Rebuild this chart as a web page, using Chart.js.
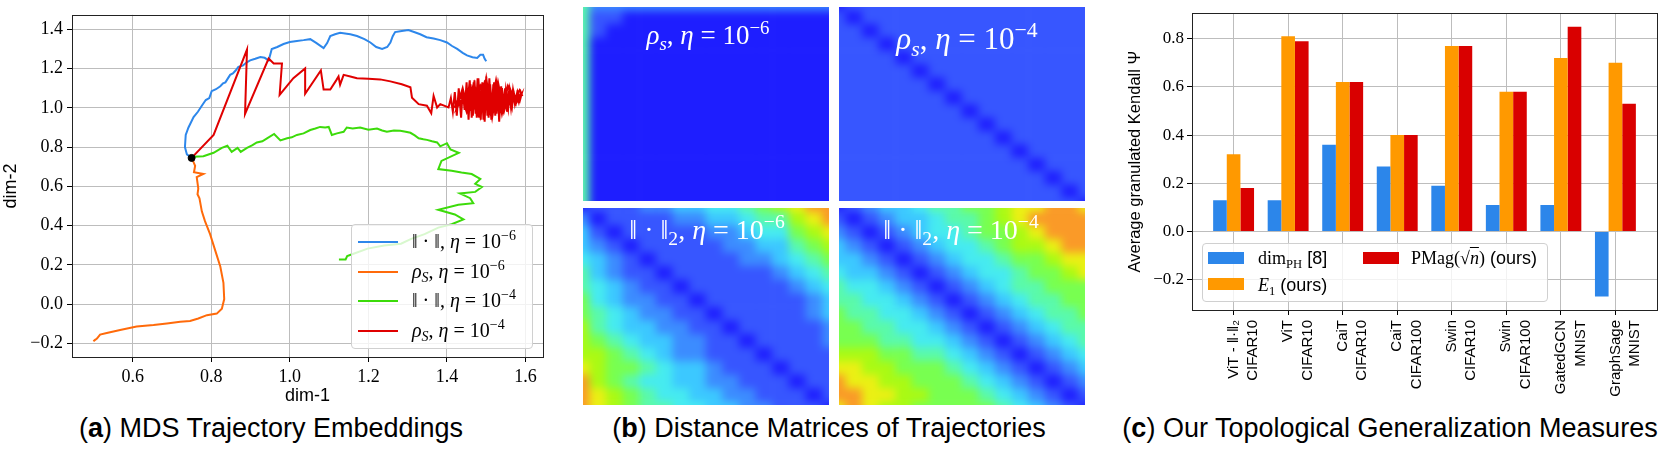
<!DOCTYPE html>
<html>
<head>
<meta charset="utf-8">
<title>Trajectories, distance matrices and generalization measures</title>
<script src="https://cdn.jsdelivr.net/npm/chart.js@4.4.1/dist/chart.umd.min.js"></script>
<style>
  body { margin: 0; background: #fff; color: #000; font-family: "Liberation Sans", Arial, sans-serif; }
  #page { position: relative; width: 1660px; height: 450px; overflow: hidden; }
  canvas, .legend, .caption, .label, .heat { position: absolute; }
  .heat { overflow: hidden; }
  .heat canvas { left: -10px; top: -10px; filter: blur(4px); }
  .math { font-family: "Liberation Serif", "DejaVu Serif", serif; }
  sub, sup { font-size: 0.7em; position: relative; vertical-align: baseline; line-height: 0; }
  sup { top: -0.55em; }
  sub { top: 0.3em; }
  .caption { top: 411px; font-size: 27px; line-height: 34px; white-space: nowrap; transform: translateX(-50%); }
  .label { color: #fff; white-space: nowrap; transform: translateX(-50%); line-height: 1; }
  .legend { background: rgba(255, 255, 255, 0.8); border: 1px solid #d0d0d0; border-radius: 4px; box-sizing: border-box; }
  .entry { position: absolute; white-space: nowrap; line-height: 1; }
  .swatch { position: absolute; }
  .ov { text-decoration: overline; }
</style>
</head>
<body>
<div id="page">
  <canvas id="mds" width="548" height="410" style="left:0;top:0"></canvas>

  <!-- each matrix canvas is 10px larger on every side and clipped by its box -->
  <div class="heat" style="left:583px;top:7px;width:246px;height:194px"><canvas id="heatTL" width="266" height="214"></canvas></div>
  <div class="heat" style="left:839px;top:7px;width:246px;height:194px"><canvas id="heatTR" width="266" height="214"></canvas></div>
  <div class="heat" style="left:583px;top:208px;width:246px;height:197px"><canvas id="heatBL" width="266" height="217"></canvas></div>
  <div class="heat" style="left:839px;top:208px;width:246px;height:197px"><canvas id="heatBR" width="266" height="217"></canvas></div>

  <canvas id="measures" width="560" height="400" style="left:1100px;top:0"></canvas>

  <!-- heatmap labels -->
  <div class="label math" style="left:708px;top:22px;font-size:27px"><i>ρ<sub>s</sub></i>, <i>η</i> = 10<sup>−6</sup></div>
  <div class="label math" style="left:967px;top:23px;font-size:31px"><i>ρ<sub>s</sub></i>, <i>η</i> = 10<sup>−4</sup></div>
  <div class="label math" style="left:707px;top:216px;font-size:28px">‖ · ‖<sub>2</sub>, <i>η</i> = 10<sup>−6</sup></div>
  <div class="label math" style="left:961px;top:216px;font-size:28px">‖ · ‖<sub>2</sub>, <i>η</i> = 10<sup>−4</sup></div>

  <!-- legend of panel (a) -->
  <div class="legend" style="left:351px;top:224px;width:182px;height:125px">
    <div class="swatch" style="left:6px;top:16px;width:40px;height:2px;background:#2d87eb"></div>
    <div class="entry math" style="left:60px;top:6px;font-size:20px">‖ · ‖, <i>η</i> = 10<sup>−6</sup></div>
    <div class="swatch" style="left:6px;top:46px;width:40px;height:2px;background:#ff6a0a"></div>
    <div class="entry math" style="left:60px;top:36px;font-size:20px"><i>ρ<sub>S</sub></i>, <i>η</i> = 10<sup>−6</sup></div>
    <div class="swatch" style="left:6px;top:75px;width:40px;height:2px;background:#3cdb0a"></div>
    <div class="entry math" style="left:60px;top:65px;font-size:20px">‖ · ‖, <i>η</i> = 10<sup>−4</sup></div>
    <div class="swatch" style="left:6px;top:105px;width:40px;height:2px;background:#e00000"></div>
    <div class="entry math" style="left:60px;top:95px;font-size:20px"><i>ρ<sub>S</sub></i>, <i>η</i> = 10<sup>−4</sup></div>
  </div>

  <!-- legend of panel (c) -->
  <div class="legend" style="left:1202px;top:243px;width:346px;height:59px">
    <div class="swatch" style="left:5px;top:8px;width:36px;height:12px;background:#2c86ea"></div>
    <div class="entry" style="left:55px;top:5px;font-size:18px"><span class="math">dim<sub>PH</sub></span> [8]</div>
    <div class="swatch" style="left:5px;top:34px;width:36px;height:12px;background:#ff9900"></div>
    <div class="entry" style="left:55px;top:32px;font-size:18px"><span class="math"><i>E</i><sub>1</sub></span> (ours)</div>
    <div class="swatch" style="left:160px;top:8px;width:36px;height:12px;background:#d90000"></div>
    <div class="entry" style="left:208px;top:5px;font-size:18px"><span class="math">PMag(√<i class="ov">n</i>)</span> (ours)</div>
  </div>

  <div class="caption" style="left:271px">(<b>a</b>) MDS Trajectory Embeddings</div>
  <div class="caption" style="left:829px">(<b>b</b>) Distance Matrices of Trajectories</div>
  <div class="caption" style="left:1390px">(<b>c</b>) Our Topological Generalization Measures</div>
</div>

<script>
// Panel (a): MDS embeddings of the four trajectories, [dim-1, dim-2]
const normSmall = [
  [0.750, 0.745], [0.738, 0.763], [0.733, 0.800], [0.735, 0.862], [0.742, 0.900], [0.755, 0.953],
  [0.766, 0.980], [0.776, 1.011], [0.786, 1.040], [0.795, 1.050], [0.801, 1.085], [0.812, 1.095],
  [0.823, 1.110], [0.830, 1.125], [0.836, 1.130], [0.848, 1.168], [0.855, 1.175], [0.862, 1.190],
  [0.869, 1.209], [0.880, 1.215], [0.889, 1.230], [0.899, 1.242], [0.912, 1.250], [0.925, 1.259],
  [0.936, 1.255], [0.946, 1.242], [0.950, 1.270], [0.954, 1.300], [0.968, 1.310], [0.984, 1.325],
  [1.000, 1.335], [1.018, 1.341], [1.035, 1.345], [1.052, 1.350], [1.068, 1.330], [1.086, 1.304],
  [1.095, 1.330], [1.103, 1.366], [1.115, 1.375], [1.128, 1.382], [1.145, 1.378], [1.154, 1.375],
  [1.171, 1.366], [1.190, 1.350], [1.205, 1.333], [1.220, 1.310], [1.235, 1.300], [1.248, 1.310],
  [1.256, 1.333], [1.262, 1.365], [1.268, 1.386], [1.285, 1.392], [1.302, 1.396], [1.318, 1.385],
  [1.332, 1.375], [1.348, 1.360], [1.366, 1.353], [1.383, 1.345], [1.400, 1.333], [1.413, 1.315],
  [1.426, 1.300], [1.440, 1.280], [1.451, 1.267], [1.465, 1.258], [1.477, 1.254], [1.485, 1.270],
  [1.492, 1.270], [1.496, 1.250], [1.500, 1.237]
];
const rhoSmall = [
  [0.750, 0.745], [0.751, 0.741], [0.759, 0.705], [0.756, 0.672], [0.780, 0.663], [0.763, 0.647],
  [0.767, 0.589], [0.765, 0.560], [0.770, 0.539], [0.776, 0.473], [0.784, 0.423], [0.797, 0.357],
  [0.810, 0.274], [0.823, 0.192], [0.831, 0.109], [0.833, 0.026], [0.827, -0.023], [0.814, -0.048],
  [0.789, -0.056], [0.767, -0.073], [0.746, -0.086], [0.721, -0.089], [0.687, -0.098], [0.653, -0.106],
  [0.610, -0.114], [0.568, -0.131], [0.534, -0.147], [0.517, -0.155], [0.509, -0.175], [0.500, -0.189],
  [0.505, -0.180]
];
const normLarge = [
  [0.750, 0.745], [0.755, 0.751], [0.780, 0.754], [0.806, 0.771], [0.827, 0.796], [0.841, 0.807],
  [0.852, 0.776], [0.867, 0.796], [0.875, 0.776], [0.891, 0.796], [0.905, 0.810], [0.916, 0.824],
  [0.930, 0.830], [0.942, 0.845], [0.960, 0.867], [0.976, 0.834], [0.993, 0.845], [1.005, 0.850],
  [1.018, 0.862], [1.035, 0.870], [1.052, 0.887], [1.065, 0.895], [1.077, 0.903], [1.090, 0.900],
  [1.099, 0.903], [1.107, 0.862], [1.120, 0.870], [1.137, 0.878], [1.145, 0.900], [1.160, 0.895],
  [1.179, 0.900], [1.200, 0.889], [1.222, 0.895], [1.235, 0.885], [1.247, 0.878], [1.265, 0.885],
  [1.281, 0.883], [1.295, 0.878], [1.307, 0.873], [1.318, 0.860], [1.328, 0.845], [1.340, 0.840],
  [1.349, 0.837], [1.362, 0.830], [1.375, 0.824], [1.383, 0.804], [1.400, 0.820], [1.409, 0.788],
  [1.430, 0.771], [1.386, 0.730], [1.378, 0.688], [1.412, 0.680], [1.437, 0.671], [1.463, 0.663],
  [1.485, 0.638], [1.472, 0.613], [1.489, 0.597], [1.472, 0.572], [1.433, 0.564], [1.459, 0.540],
  [1.467, 0.514], [1.429, 0.506], [1.378, 0.481], [1.420, 0.457], [1.442, 0.432], [1.412, 0.407],
  [1.378, 0.390], [1.343, 0.357], [1.309, 0.333], [1.283, 0.308], [1.240, 0.299], [1.198, 0.283],
  [1.164, 0.258], [1.146, 0.245], [1.142, 0.228], [1.125, 0.228]
];
const rhoLarge = [
  [0.750, 0.745], [0.806, 0.862], [0.891, 1.297], [0.886, 0.969], [0.946, 1.251], [0.959, 1.226],
  [0.980, 1.226], [0.974, 1.066], [1.009, 1.151], [1.039, 1.201], [1.039, 1.072], [1.079, 1.191],
  [1.086, 1.093], [1.103, 1.093], [1.118, 1.140], [1.124, 1.160], [1.128, 1.118], [1.137, 1.168],
  [1.154, 1.160], [1.171, 1.151], [1.200, 1.148], [1.230, 1.145], [1.256, 1.135], [1.285, 1.120],
  [1.307, 1.105], [1.311, 1.052], [1.328, 1.019], [1.349, 1.011], [1.360, 0.973], [1.366, 1.061],
  [1.375, 1.002], [1.383, 1.019], [1.404, 1.002],
  // the noisy end of the run
  [1.410, 1.05], [1.415, 0.98], [1.420, 1.08], [1.425, 0.96], [1.430, 1.10], [1.436, 0.95],
  [1.440, 1.09], [1.445, 0.99], [1.450, 1.13], [1.455, 0.94], [1.460, 1.12], [1.466, 0.96],
  [1.470, 1.14], [1.476, 0.95], [1.480, 1.15], [1.486, 0.94], [1.490, 1.13], [1.496, 0.93],
  [1.500, 1.16], [1.506, 0.95], [1.510, 1.12], [1.516, 0.96], [1.520, 1.13], [1.526, 0.97],
  [1.530, 1.11], [1.536, 0.98], [1.540, 1.10], [1.546, 0.99], [1.550, 1.09], [1.556, 1.00],
  [1.560, 1.09], [1.566, 1.01], [1.570, 1.08], [1.576, 1.03], [1.580, 1.08], [1.586, 1.04],
  [1.590, 1.07], [1.575, 1.02], [1.560, 1.10], [1.545, 0.98], [1.530, 1.13], [1.515, 0.95],
  [1.500, 1.15], [1.485, 0.96], [1.470, 1.12], [1.455, 0.97], [1.440, 1.10], [1.425, 1.00],
  [1.445, 1.06], [1.465, 0.98], [1.485, 1.11], [1.505, 0.99], [1.525, 1.10], [1.545, 1.02],
  [1.565, 1.07], [1.540, 1.05], [1.510, 1.03], [1.480, 1.06], [1.460, 1.04],
  [1.452, 1.02], [1.458, 1.14], [1.463, 0.95], [1.468, 1.13], [1.473, 0.97], [1.478, 1.15],
  [1.483, 0.95], [1.488, 1.12], [1.493, 0.94], [1.498, 1.14], [1.503, 0.96], [1.508, 1.15],
  [1.513, 0.94], [1.518, 1.12], [1.523, 0.96], [1.528, 1.12], [1.533, 0.93], [1.538, 1.11],
  [1.543, 0.97], [1.548, 1.10], [1.553, 0.98], [1.558, 1.08], [1.563, 1.00], [1.568, 1.09],
  [1.573, 1.02], [1.578, 1.07], [1.583, 1.03], [1.588, 1.08], [1.592, 1.06], [1.585, 1.09],
  [1.570, 1.04], [1.555, 1.11], [1.540, 0.97], [1.525, 1.14], [1.510, 0.98], [1.495, 1.12],
  [1.480, 0.97], [1.465, 1.10], [1.450, 0.98], [1.435, 1.07], [1.420, 1.00], [1.430, 1.05],
  [1.470, 1.05], [1.500, 1.06], [1.530, 1.04], [1.560, 1.05]
];
const startPoint = [[0.750, 0.745]];

// Panel (b): distance matrices, one digit per cell (0 = close, 9 = far)
const rhoSmallMatrix = [
  "5222222222222222", "5110000000000000", "5100000000000000", "5000000000000000",
  "5000000000000000", "5000000000000000", "5000000000000000", "5000000000000000",
  "5000000000000000", "5000000000000000", "5000000000000000", "5000000000000000",
  "5000000000000000", "5000000000000000", "5000000000000000", "5000000000000000"
];
const rhoLargeMatrix = [
  "0111111111111111", "1011111111111111", "1101111111111111", "1110111111111111",
  "1111011111111111", "1111101111111111", "1111110111111111", "1111111011111111",
  "1111111101111111", "1111111110111111", "1111111111011111", "1111111111101111",
  "1111111111110111", "1111111111111011", "1111111111111101", "1111111111111110"
];
const normSmallMatrix = [
  "0111223344567899", "2011112233455789", "3101111122344678", "3210111112233567",
  "4321011111223456", "5321101111112345", "5432110111111234", "6432211011111123",
  "6543221101111123", "7543322110111112", "7654332211011112", "7765432211101111",
  "8766543321110111", "9765443322111011", "9876544332211101", "9876554433221110"
];
const normLargeMatrix = [
  "0123345566788998", "1012334556789999", "2101234456678999", "3210123445677899",
  "3321012344566788", "4332101234456678", "5443210123455666", "5544321012345566",
  "6554432101234556", "6655443210123455", "6665544321012345", "7776655432101234",
  "8877666543210123", "9887766654321012", "9988776665432101", "8987766666543210"
];
// colour of each distance level
const levelColors = [
  "#1e1eff", "#3756ff", "#3c8cff", "#3cc8ff", "#46ebf0",
  "#5afaaa", "#78ff50", "#aafa14", "#ebf014", "#fa9a28"
];

// Panel (c): average granulated Kendall coefficients
const models = [
  ["ViT - ‖·‖₂", "CIFAR10"], ["ViT", "CIFAR10"], ["CaiT", "CIFAR10"], ["CaiT", "CIFAR100"],
  ["Swin", "CIFAR10"], ["Swin", "CIFAR100"], ["GatedGCN", "MNIST"], ["GraphSage", "MNIST"]
];
const dimPH = [0.13, 0.13, 0.36, 0.27, 0.19, 0.11, 0.11, -0.27];
const e1 = [0.32, 0.81, 0.62, 0.40, 0.77, 0.58, 0.72, 0.70];
const pmag = [0.18, 0.79, 0.62, 0.40, 0.77, 0.58, 0.85, 0.53];

Chart.defaults.font.family = '"Liberation Sans", Arial, sans-serif';
Chart.defaults.color = '#000';

const serifTicks = size => ({ family: '"Liberation Serif", "DejaVu Serif", serif', size: size });
const fmtTick = v => (v < -1e-9 ? '−' : '') + Math.abs(v).toFixed(1);
const gridStyle = { color: '#bdbdbd', lineWidth: 1, tickColor: '#000', tickLength: 5, tickWidth: 1 };

// black frame round the plot area, like matplotlib spines
const frame = {
  id: 'frame',
  afterDraw(chart) {
    const { ctx, chartArea: a } = chart;
    ctx.save();
    ctx.strokeStyle = '#222';
    ctx.lineWidth = 1;
    ctx.strokeRect(Math.round(a.left) + 0.5, Math.round(a.top) + 0.5,
      Math.round(a.right - a.left), Math.round(a.bottom - a.top));
    ctx.restore();
  }
};

// 1) MDS trajectory embeddings
function trajectory(points, color, order) {
  return {
    data: points.map(p => ({ x: p[0], y: p[1] })),
    showLine: true,
    borderColor: color,
    borderWidth: 2,
    pointRadius: 0,
    tension: 0,
    order: order
  };
}

new Chart(document.getElementById('mds'), {
  type: 'scatter',
  data: {
    datasets: [
      {
        data: startPoint.map(p => ({ x: p[0], y: p[1] })),
        backgroundColor: '#000', borderColor: '#000', pointRadius: 3.5, order: 0
      },
      trajectory(rhoLarge, '#e00000', 1),
      trajectory(normLarge, '#3cdb0a', 2),
      trajectory(rhoSmall, '#ff6a0a', 3),
      trajectory(normSmall, '#2d87eb', 4)
    ]
  },
  options: {
    responsive: false,
    animation: false,
    layout: { padding: { top: 5, right: 5, left: 0, bottom: 0 } },
    plugins: { legend: { display: false }, tooltip: { enabled: false } },
    scales: {
      x: {
        type: 'linear', min: 0.4455, max: 1.6445,
        ticks: { stepSize: 0.2, includeBounds: false, font: serifTicks(18), padding: 4, callback: fmtTick },
        grid: gridStyle,
        border: { display: false },
        title: { display: true, text: 'dim-1', font: { size: 18 }, padding: { top: 0, bottom: 3 } },
        afterFit: s => { s.height = 53; }
      },
      y: {
        type: 'linear', min: -0.269, max: 1.474,
        ticks: { stepSize: 0.2, includeBounds: false, font: serifTicks(18), padding: 4, callback: fmtTick },
        grid: gridStyle,
        border: { display: false },
        title: { display: true, text: 'dim-2', font: { size: 18 }, padding: { top: 0, bottom: 0 } },
        afterFit: s => { s.width = 72; }
      }
    }
  },
  plugins: [frame]
});

// 2) distance matrices as tiled floating bars, one dataset per matrix row
function heatmap(id, rows) {
  const n = rows.length;
  const columns = rows[0].split('');
  new Chart(document.getElementById(id), {
    type: 'bar',
    data: {
      labels: columns.map((c, j) => j),
      datasets: rows.map((row, r) => ({
        data: row.split('').map(() => [n - r - 1, n - r]),
        backgroundColor: row.split('').map(c => levelColors[+c]),
        borderWidth: 0,
        barPercentage: 1,
        categoryPercentage: 1,
        grouped: false
      }))
    },
    options: {
      responsive: false,
      animation: false,
      layout: { padding: 0 },
      plugins: { legend: { display: false }, tooltip: { enabled: false } },
      scales: {
        x: { display: false },
        y: { display: false, min: 0, max: n }
      }
    }
  });
}

heatmap('heatTL', rhoSmallMatrix);
heatmap('heatTR', rhoLargeMatrix);
heatmap('heatBL', normSmallMatrix);
heatmap('heatBR', normLargeMatrix);

// 3) topological generalization measures
const asPoints = values => values.map((v, i) => ({ x: i, y: v }));

new Chart(document.getElementById('measures'), {
  type: 'bar',
  data: {
    datasets: [
      { data: asPoints(dimPH), backgroundColor: '#2c86ea' },
      { data: asPoints(e1), backgroundColor: '#ff9900' },
      { data: asPoints(pmag), backgroundColor: '#d90000' }
    ]
  },
  options: {
    responsive: false,
    animation: false,
    layout: { padding: { top: 3, right: 3, left: 0, bottom: 0 } },
    datasets: { bar: { categoryPercentage: 0.75, barPercentage: 1, borderWidth: 0 } },
    plugins: { legend: { display: false }, tooltip: { enabled: false } },
    scales: {
      x: {
        type: 'linear', min: -0.7625, max: 7.7625, offset: false,
        afterBuildTicks: s => { s.ticks = models.map((m, i) => ({ value: i })); },
        ticks: {
          autoSkip: false, minRotation: 90, maxRotation: 90, padding: 5,
          font: { size: 15, lineHeight: 1.3 },
          callback: v => models[v]
        },
        grid: Object.assign({ offset: false }, gridStyle),
        border: { display: false },
        afterFit: s => { s.height = 90; }
      },
      y: {
        type: 'linear', min: -0.326, max: 0.906,
        ticks: { stepSize: 0.2, includeBounds: false, font: serifTicks(17), padding: 3, callback: fmtTick },
        grid: gridStyle,
        border: { display: false },
        title: {
          display: true, text: 'Average granulated Kendall Ψ',
          font: { size: 16.5 }, padding: { top: 26, bottom: 0 }
        },
        afterFit: s => { s.width = 92; }
      }
    }
  },
  plugins: [frame]
});
</script>
</body>
</html>
